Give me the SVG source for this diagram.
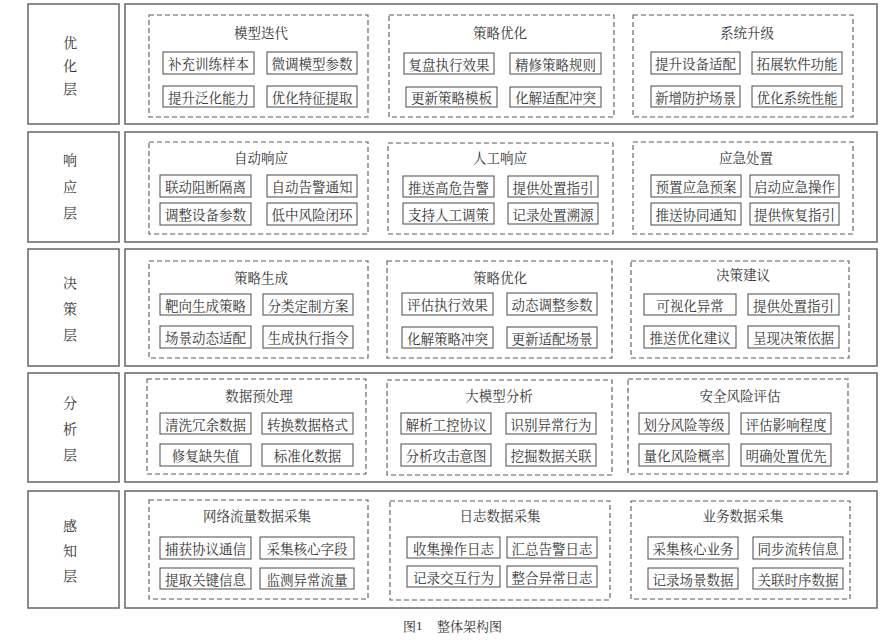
<svg xmlns="http://www.w3.org/2000/svg" width="888" height="640" viewBox="0 0 888 640">
<style>
text{font-family:"Noto Serif CJK SC","Noto Sans CJK SC",serif;fill:#333;dominant-baseline:central;text-anchor:middle}
.frame{fill:#fff;stroke:#666;stroke-width:1.5}
.grp{fill:none;stroke:#5a5a5a;stroke-width:1.1;stroke-dasharray:5 3}
.box{fill:#fff;stroke:#4a4a4a;stroke-width:1}
.lbl{font-size:14px}
.ttl{font-size:13.5px}
.it{font-size:13.5px}
.cap{font-size:13px;text-anchor:start}
</style>
<rect width="888" height="640" fill="#fff"/>

<!-- Row 1: 优化层 -->
<g id="layer-optimize">
<rect class="frame" x="28" y="4" width="91" height="120"/>
<text class="lbl" x="70" y="42">优</text><text class="lbl" x="70" y="65">化</text><text class="lbl" x="70" y="88">层</text>
<rect class="frame" x="125" y="4" width="752" height="120"/>
</g>
<g id="grp-model-iter">
<rect class="grp" x="149" y="15" width="219" height="102"/>
<text class="ttl" x="261" y="32">模型迭代</text>
<rect class="box" x="163" y="52" width="91" height="22"/><text class="it" x="208.5" y="63">补充训练样本</text>
<rect class="box" x="267" y="52" width="90" height="22"/><text class="it" x="312" y="63">微调模型参数</text>
<rect class="box" x="163" y="86" width="91" height="21"/><text class="it" x="208.5" y="96.5">提升泛化能力</text>
<rect class="box" x="267" y="86" width="90" height="21"/><text class="it" x="312" y="96.5">优化特征提取</text>
</g>
<g id="grp-strategy-opt1">
<rect class="grp" x="389" y="15" width="225" height="102"/>
<text class="ttl" x="500" y="32">策略优化</text>
<rect class="box" x="404" y="53" width="90" height="21"/><text class="it" x="449" y="63.5">复盘执行效果</text>
<rect class="box" x="510" y="53" width="91" height="21"/><text class="it" x="555.5" y="63.5">精修策略规则</text>
<rect class="box" x="406" y="87" width="91" height="20"/><text class="it" x="451.5" y="97">更新策略模板</text>
<rect class="box" x="510" y="87" width="91" height="20"/><text class="it" x="555.5" y="97">化解适配冲突</text>
</g>
<g id="grp-sys-upgrade">
<rect class="grp" x="633" y="15" width="220" height="102"/>
<text class="ttl" x="747" y="32">系统升级</text>
<rect class="box" x="651" y="52" width="89" height="22"/><text class="it" x="695.5" y="63">提升设备适配</text>
<rect class="box" x="752" y="52" width="90" height="22"/><text class="it" x="797" y="63">拓展软件功能</text>
<rect class="box" x="651" y="86" width="89" height="21"/><text class="it" x="695.5" y="96.5">新增防护场景</text>
<rect class="box" x="752" y="86" width="90" height="21"/><text class="it" x="797" y="96.5">优化系统性能</text>
</g>

<!-- Row 2: 响应层 -->
<g id="layer-response">
<rect class="frame" x="28" y="132" width="91" height="110"/>
<text class="lbl" x="70" y="159">响</text><text class="lbl" x="70" y="186">应</text><text class="lbl" x="70" y="212">层</text>
<rect class="frame" x="125" y="132" width="752" height="110"/>
</g>
<g id="grp-auto-resp">
<rect class="grp" x="149" y="142" width="219" height="92"/>
<text class="ttl" x="261" y="157">自动响应</text>
<rect class="box" x="160" y="175" width="91" height="22"/><text class="it" x="205.5" y="186">联动阻断隔离</text>
<rect class="box" x="267" y="175" width="90" height="22"/><text class="it" x="312" y="186">自动告警通知</text>
<rect class="box" x="160" y="203" width="91" height="22"/><text class="it" x="205.5" y="214">调整设备参数</text>
<rect class="box" x="267" y="203" width="90" height="22"/><text class="it" x="312" y="214">低中风险闭环</text>
</g>
<g id="grp-manual-resp">
<rect class="grp" x="388" y="143" width="225" height="91"/>
<text class="ttl" x="500" y="157">人工响应</text>
<rect class="box" x="403" y="176" width="91" height="21"/><text class="it" x="448.5" y="186.5">推送高危告警</text>
<rect class="box" x="508" y="176" width="90" height="21"/><text class="it" x="553" y="186.5">提供处置指引</text>
<rect class="box" x="403" y="203" width="91" height="21"/><text class="it" x="448.5" y="213.5">支持人工调策</text>
<rect class="box" x="508" y="203" width="90" height="21"/><text class="it" x="553" y="213.5">记录处置溯源</text>
</g>
<g id="grp-emergency">
<rect class="grp" x="633" y="142" width="220" height="92"/>
<text class="ttl" x="746" y="157">应急处置</text>
<rect class="box" x="651" y="175" width="90" height="22"/><text class="it" x="696" y="186">预置应急预案</text>
<rect class="box" x="750" y="175" width="89" height="22"/><text class="it" x="794.5" y="186">启动应急操作</text>
<rect class="box" x="651" y="203" width="90" height="22"/><text class="it" x="696" y="214">推送协同通知</text>
<rect class="box" x="750" y="203" width="89" height="22"/><text class="it" x="794.5" y="214">提供恢复指引</text>
</g>

<!-- Row 3: 决策层 -->
<g id="layer-decision">
<rect class="frame" x="28" y="249" width="91" height="117"/>
<text class="lbl" x="70" y="282">决</text><text class="lbl" x="70" y="308">策</text><text class="lbl" x="70" y="334">层</text>
<rect class="frame" x="125" y="249" width="752" height="117"/>
</g>
<g id="grp-strategy-gen">
<rect class="grp" x="149" y="261" width="219" height="97"/>
<text class="ttl" x="261" y="277">策略生成</text>
<rect class="box" x="160" y="294" width="91" height="21"/><text class="it" x="205.5" y="304.5">靶向生成策略</text>
<rect class="box" x="263" y="294" width="90" height="21"/><text class="it" x="308" y="304.5">分类定制方案</text>
<rect class="box" x="160" y="326" width="91" height="22"/><text class="it" x="205.5" y="337">场景动态适配</text>
<rect class="box" x="263" y="326" width="90" height="22"/><text class="it" x="308" y="337">生成执行指令</text>
</g>
<g id="grp-strategy-opt2">
<rect class="grp" x="387" y="261" width="225" height="97"/>
<text class="ttl" x="500" y="277">策略优化</text>
<rect class="box" x="402" y="293" width="91" height="22"/><text class="it" x="447.5" y="304">评估执行效果</text>
<rect class="box" x="507" y="293" width="90" height="22"/><text class="it" x="552" y="304">动态调整参数</text>
<rect class="box" x="402" y="327" width="91" height="21"/><text class="it" x="447.5" y="337.5">化解策略冲突</text>
<rect class="box" x="507" y="327" width="90" height="21"/><text class="it" x="552" y="337.5">更新适配场景</text>
</g>
<g id="grp-decision-adv">
<rect class="grp" x="631" y="261" width="218" height="97"/>
<text class="ttl" x="743" y="274">决策建议</text>
<rect class="box" x="644" y="294" width="92" height="21"/><text class="it" x="690" y="304.5">可视化异常</text>
<rect class="box" x="748" y="294" width="91" height="21"/><text class="it" x="793.5" y="304.5">提供处置指引</text>
<rect class="box" x="644" y="326" width="92" height="22"/><text class="it" x="690" y="337">推送优化建议</text>
<rect class="box" x="748" y="326" width="91" height="22"/><text class="it" x="793.5" y="337">呈现决策依据</text>
</g>

<!-- Row 4: 分析层 -->
<g id="layer-analysis">
<rect class="frame" x="28" y="373" width="91" height="109"/>
<text class="lbl" x="70" y="402">分</text><text class="lbl" x="70" y="428">析</text><text class="lbl" x="70" y="454">层</text>
<rect class="frame" x="125" y="373" width="752" height="109"/>
</g>
<g id="grp-preprocess">
<rect class="grp" x="147" y="379" width="219" height="95"/>
<text class="ttl" x="259" y="395">数据预处理</text>
<rect class="box" x="160" y="413" width="91" height="21"/><text class="it" x="205.5" y="423.5">清洗冗余数据</text>
<rect class="box" x="262" y="413" width="91" height="21"/><text class="it" x="307.5" y="423.5">转换数据格式</text>
<rect class="box" x="160" y="444" width="91" height="22"/><text class="it" x="205.5" y="455">修复缺失值</text>
<rect class="box" x="262" y="444" width="91" height="22"/><text class="it" x="307.5" y="455">标准化数据</text>
</g>
<g id="grp-llm-analysis">
<rect class="grp" x="387" y="380" width="225" height="95"/>
<text class="ttl" x="499" y="395">大模型分析</text>
<rect class="box" x="401" y="413" width="90" height="21"/><text class="it" x="446" y="423.5">解析工控协议</text>
<rect class="box" x="506" y="413" width="90" height="21"/><text class="it" x="551" y="423.5">识别异常行为</text>
<rect class="box" x="401" y="444" width="90" height="22"/><text class="it" x="446" y="455">分析攻击意图</text>
<rect class="box" x="506" y="444" width="90" height="22"/><text class="it" x="551" y="455">挖掘数据关联</text>
</g>
<g id="grp-risk-eval">
<rect class="grp" x="628" y="379" width="220" height="95"/>
<text class="ttl" x="740" y="395">安全风险评估</text>
<rect class="box" x="639" y="413" width="90" height="21"/><text class="it" x="684" y="423.5">划分风险等级</text>
<rect class="box" x="741" y="413" width="90" height="21"/><text class="it" x="786" y="423.5">评估影响程度</text>
<rect class="box" x="639" y="444" width="90" height="22"/><text class="it" x="684" y="455">量化风险概率</text>
<rect class="box" x="741" y="444" width="90" height="22"/><text class="it" x="786" y="455">明确处置优先</text>
</g>

<!-- Row 5: 感知层 -->
<g id="layer-perception">
<rect class="frame" x="28" y="491" width="91" height="117"/>
<text class="lbl" x="70" y="525">感</text><text class="lbl" x="70" y="550">知</text><text class="lbl" x="70" y="575">层</text>
<rect class="frame" x="125" y="491" width="752" height="117"/>
</g>
<g id="grp-net-traffic">
<rect class="grp" x="149" y="500" width="219" height="99"/>
<text class="ttl" x="257" y="515">网络流量数据采集</text>
<rect class="box" x="160" y="537" width="91" height="22"/><text class="it" x="205.5" y="548">捕获协议通信</text>
<rect class="box" x="260" y="537" width="94" height="22"/><text class="it" x="307" y="548">采集核心字段</text>
<rect class="box" x="160" y="568" width="91" height="21"/><text class="it" x="205.5" y="578.5">提取关键信息</text>
<rect class="box" x="260" y="568" width="94" height="21"/><text class="it" x="307" y="578.5">监测异常流量</text>
</g>
<g id="grp-log">
<rect class="grp" x="390" y="501" width="220" height="99"/>
<text class="ttl" x="500" y="515">日志数据采集</text>
<rect class="box" x="407" y="537" width="93" height="21"/><text class="it" x="453.5" y="547.5">收集操作日志</text>
<rect class="box" x="507" y="537" width="90" height="21"/><text class="it" x="552" y="547.5">汇总告警日志</text>
<rect class="box" x="407" y="566" width="93" height="21"/><text class="it" x="453.5" y="576.5">记录交互行为</text>
<rect class="box" x="507" y="566" width="90" height="21"/><text class="it" x="552" y="576.5">整合异常日志</text>
</g>
<g id="grp-business">
<rect class="grp" x="631" y="501" width="219" height="98"/>
<text class="ttl" x="743" y="515">业务数据采集</text>
<rect class="box" x="648" y="537" width="90" height="22"/><text class="it" x="693" y="548">采集核心业务</text>
<rect class="box" x="753" y="537" width="90" height="22"/><text class="it" x="798" y="548">同步流转信息</text>
<rect class="box" x="648" y="568" width="90" height="21"/><text class="it" x="693" y="578.5">记录场景数据</text>
<rect class="box" x="753" y="568" width="90" height="21"/><text class="it" x="798" y="578.5">关联时序数据</text>
</g>

<g id="connectors"></g>

<text class="cap" x="403" y="625">图<tspan font-family="Liberation Serif, serif">1</tspan><tspan x="437">整体架构图</tspan></text>
</svg>
